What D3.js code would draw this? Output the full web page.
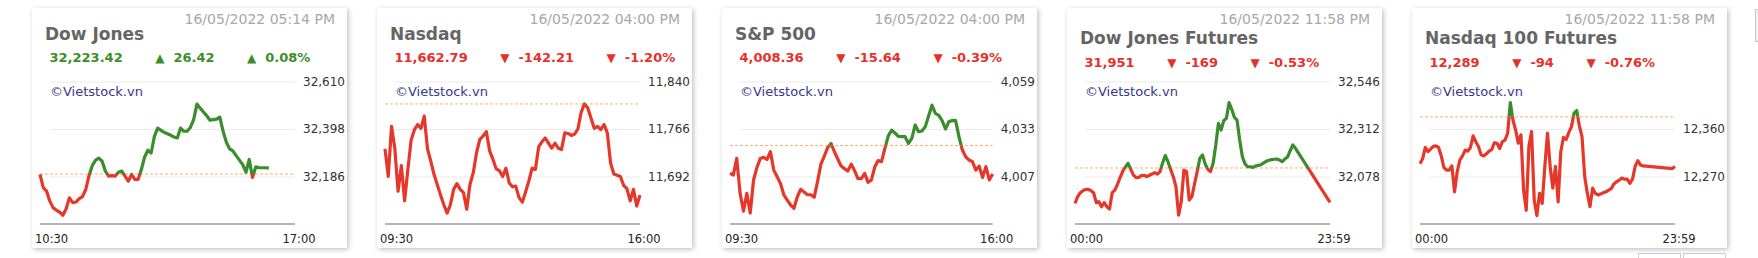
<!DOCTYPE html>
<html>
<head>
<meta charset="utf-8">
<script src="https://cdn.jsdelivr.net/npm/d3@7/dist/d3.min.js"></script>
<style>
  body { margin: 0; background: #fff; }
  svg { display: block; font-family: "DejaVu Sans", Verdana, sans-serif; }
</style>
</head>
<body>
<svg id="root" width="1758" height="258"></svg>
<script>
// ---- data ----
const titles = ["Dow Jones", "Nasdaq", "S&P 500", "Dow Jones Futures", "Nasdaq 100 Futures"];
const dates = ["16/05/2022 05:14 PM", "16/05/2022 04:00 PM", "16/05/2022 04:00 PM", "16/05/2022 11:58 PM", "16/05/2022 11:58 PM"];
const lastValues = ["32,223.42", "11,662.79", "4,008.36", "31,951", "12,289"];
const changes = ["26.42", "-142.21", "-15.64", "-169", "-94"];
const pctChanges = ["0.08%", "-1.20%", "-0.39%", "-0.53%", "-0.76%"];
const refValues = [32197, 11805, 4024, 32120, 12383];
const axisLabels = [["10:30", "17:00"], ["09:30", "16:00"], ["09:30", "16:00"], ["00:00", "23:59"], ["00:00", "23:59"]];
const yTicks = [[32186, 32398, 32610], [11692, 11766, 11840], [4007, 4033, 4059], [32078, 32312, 32546], [12270, 12360]];
const yDomains = [[31974, 32610], [11618, 11840], [3981, 4059], [31844, 32546], [12180, 12450]];
const stepMinutes = [5, 5, 5, 15, 15];
const spanMinutes = [390, 390, 390, 1440, 1440];

const dowValues = [32195,32136,32121,32076,32047,32036,32027,32013,32042,32091,
  32069,32072,32087,32096,32128,32190,32235,32259,32268,32254,
  32210,32188,32190,32188,32205,32210,32188,32165,32195,32173,
  32173,32217,32273,32303,32291,32365,32402,32392,32383,32377,
  32370,32362,32358,32402,32388,32388,32405,32440,32509,32491,
  32474,32457,32437,32440,32442,32451,32388,32339,32309,32300,
  32279,32259,32239,32205,32262,32182,32229,32225,32225,32225,32223];

const nasdaqValues = [11735,11692,11770,11736,11669,11709,11654,11703,11749,11765,
  11773,11767,11786,11735,11716,11695,11679,11663,11648,11635,
  11648,11672,11681,11672,11667,11641,11680,11698,11729,11750,
  11755,11762,11732,11719,11704,11701,11692,11705,11682,11676,
  11677,11659,11652,11668,11685,11705,11703,11738,11746,11752,
  11744,11736,11744,11736,11734,11760,11759,11756,11758,11766,
  11792,11805,11799,11783,11767,11770,11765,11773,11760,11713,
  11696,11694,11692,11678,11673,11654,11672,11646,11663];

const spValues = [4008.7,4007.8,4016.9,3997.8,3988,3997.8,3987,4005.1,4012.0,4016.8,
  4017.5,4016.4,4020.6,4010.5,4006.9,4003.2,3996.9,3994.1,3991.4,3989.6,
  3995.9,4000.0,3998.5,3997.0,3997.0,3995.6,4004.2,4013.8,4018.2,4022.8,
  4025.1,4020.6,4016.6,4012.7,4011.3,4010.0,4013.8,4010.2,4005.8,4005.8,
  4008.7,4003.8,4005.1,4012.2,4015.7,4015.1,4022.4,4029.2,4032.3,4030.8,
  4029.0,4028.8,4028.8,4025.1,4027.9,4035.2,4031.5,4031.9,4034.3,4040.3,
  4046.0,4041.6,4040.5,4037.6,4033.0,4037.0,4037.7,4037.6,4028.8,4021.5,
  4017.8,4016.0,4015.1,4010.5,4012.7,4006.5,4012.4,4005.1,4008.4];

// futures: null = no quote in that slot, the line joins across the gap
const dowFutValues = [31946,31979,31998,32008,32015,32015,32008,31998,31949,31954,
  31929,31949,31929,31918,31998,32011,32039,32074,32105,32126,
  32143,32113,32085,32072,32074,32082,32084,32077,32084,32090,
  32097,32090,32102,32146,32181,32151,32113,32077,32028,31888,
  31954,32110,32102,31962,31979,32041,32102,32168,32184,32140,
  32113,32102,32143,32233,32340,32307,32353,32365,32442,32409,
  32370,32356,32258,32176,32140,32126,32126,32123,32130,32133,
  32136,32145,32153,32158,32161,32163,32164,32159,32151,32164,
  32174,32205,32233,32217,
  null,null,null,null,null,null,null,null,null,null,null,null,
  31951];

const nasdaqFutValues = [12294,12304,12325,12317,12322,12327,12328,12325,12309,12287,
  12282,12282,12290,12241,12279,12301,12309,12320,12318,12325,
  12347,12336,12327,12311,12309,12313,12318,12321,12334,12333,
  12323,12336,12339,12352,12410,12377,12358,12333,12349,12244,
  12206,12327,12355,12225,12196,12238,12219,12289,12352,12289,
  12248,12289,12222,12317,12344,12340,12353,12364,12390,12395,
  12366,12345,12270,12238,12213,12248,12238,12235,12237,12239,
  12241,12244,12247,12256,12260,12263,12267,12265,12265,12257,
  12265,12289,12300,12292,12290,
  null,null,null,null,null,null,null,null,null,null,
  12285,12289];

const seriesValues = [dowValues, nasdaqValues, spValues, dowFutValues, nasdaqFutValues];

// ---- layout ----
const cardW = 315, cardH = 240, cardX0 = 32, cardStep = 345, cardY = 8;
const plotLeft = 8, plotTop = 73.5, plotBottom = 216;
const headerDrop = [0, 0, 0, 5, 5];
const GREEN = "#3a8c2c", RED = "#e5372a", GREEN_TXT = "#3b8f26", RED_TXT = "#e8302a";

const svg = d3.select("#root");
const defs = svg.append("defs");
defs.append("filter")
    .attr("id", "shadow")
    .attr("x", "-5%").attr("y", "-5%").attr("width", "112%").attr("height", "112%")
  .append("feDropShadow")
    .attr("dx", 1.5).attr("dy", 1.5)
    .attr("stdDeviation", 2.4)
    .attr("flood-color", "#000")
    .attr("flood-opacity", 0.26);

// bits of the next widget / pager that show at the edges
svg.append("rect").attr("x", 1755.5).attr("y", 9.5).attr("width", 12).attr("height", 32)
  .attr("fill", "#f3f3f3").attr("stroke", "#c8c8c8");
[1638, 1683].forEach(px => {
  svg.append("rect").attr("x", px + 0.5).attr("y", 253.5).attr("width", 42).attr("height", 10)
    .attr("fill", "#fff").attr("stroke", "#cfcfcf");
});

titles.forEach((title, i) => {
  const up = !changes[i].startsWith("-");
  const txtColor = up ? GREEN_TXT : RED_TXT;
  const arrow = up ? "\u25B2" : "\u25BC";

  const card = svg.append("g")
    .attr("transform", `translate(${cardX0 + i * cardStep},${cardY})`);

  card.append("rect")
    .attr("width", cardW).attr("height", cardH)
    .attr("fill", "#fff")
    .attr("filter", "url(#shadow)");

  // header
  card.append("text")
    .attr("x", 303).attr("y", 16)
    .attr("text-anchor", "end")
    .attr("font-size", 14)
    .attr("fill", "#a8a8a8")
    .text(dates[i]);

  card.append("text")
    .attr("x", 13).attr("y", 32 + headerDrop[i] * 0.7)
    .attr("font-size", 17).attr("font-weight", "bold")
    .attr("fill", "#656565")
    .text(title);

  const rowY = 53.5 + headerDrop[i];
  const gap = 32.5;
  const c1 = card.append("text")
    .attr("x", 17.5).attr("y", rowY)
    .attr("font-size", 13).attr("font-weight", "bold").attr("fill", txtColor)
    .text(lastValues[i]);
  let cx = 17.5 + c1.node().getComputedTextLength() + gap;
  [changes[i], pctChanges[i]].forEach(val => {
    const t = card.append("text")
      .attr("x", cx).attr("y", rowY)
      .attr("font-size", 13).attr("font-weight", "bold").attr("fill", txtColor);
    t.append("tspan").attr("font-size", 12).text(arrow);
    t.append("tspan").attr("dx", 9).text(val);
    cx += t.node().getComputedTextLength() + 9 + gap;
  });

  card.append("text")
    .attr("x", 18).attr("y", 88)
    .attr("font-size", 13)
    .attr("fill", "#37378c")
    .text("\u00A9Vietstock.vn");

  // y axis labels on the right, plot width follows their width
  const fmt = d3.format(",");
  const yLab = card.append("g").attr("font-size", 12).attr("fill", "#333");
  const labs = yLab.selectAll("text").data(yTicks[i]).join("text").text(d => fmt(d));
  const labW = d3.max(labs.nodes(), n => n.getComputedTextLength());
  const plotRight = cardW - labW - 10;

  const x = d3.scaleLinear().domain([0, spanMinutes[i]]).range([plotLeft, plotRight]);
  const y = d3.scaleLinear().domain(yDomains[i]).range([plotBottom, plotTop]);

  labs.attr("x", plotRight + 8).attr("y", d => y(d)).attr("dy", "0.36em");

  // gridlines
  card.append("g")
    .attr("transform", `translate(${plotRight},0)`)
    .call(d3.axisLeft(y).tickValues(yTicks[i]).tickSize(plotRight - plotLeft - 10).tickFormat(""))
    .call(g => g.select(".domain").remove())
    .call(g => g.selectAll("line").attr("stroke", "#ebebeb"));

  // previous close reference
  card.append("line")
    .attr("x1", plotLeft).attr("x2", plotRight)
    .attr("y1", y(refValues[i])).attr("y2", y(refValues[i]))
    .attr("stroke", "#f6b36a").attr("stroke-dasharray", "3,2");

  // price line split at the reference level
  const pts = seriesValues[i]
    .map((v, k) => ({ t: k * stepMinutes[i], v }))
    .filter(d => d.v != null);
  const line = d3.line().x(d => x(d.t)).y(d => y(d.v));
  const yr = y(refValues[i]);

  defs.append("clipPath").attr("id", "up" + i)
    .append("rect").attr("x", 0).attr("y", 0).attr("width", cardW).attr("height", yr);
  defs.append("clipPath").attr("id", "dn" + i)
    .append("rect").attr("x", 0).attr("y", yr).attr("width", cardW).attr("height", cardH - yr);

  [["up", GREEN], ["dn", RED]].forEach(([id, col]) => {
    card.append("path")
      .datum(pts)
      .attr("clip-path", `url(#${id}${i})`)
      .attr("d", line)
      .attr("fill", "none")
      .attr("stroke", col)
      .attr("stroke-width", 3.2)
      .attr("stroke-linejoin", "round");
  });

  // x axis
  card.append("line")
    .attr("x1", plotLeft).attr("x2", plotRight)
    .attr("y1", plotBottom).attr("y2", plotBottom)
    .attr("stroke", "#9e9e9e").attr("stroke-width", 1.6);

  card.append("text")
    .attr("x", 3).attr("y", 235)
    .attr("font-size", 11.5).attr("fill", "#222")
    .text(axisLabels[i][0]);
  card.append("text")
    .attr("x", plotRight + 4).attr("y", 235)
    .attr("text-anchor", "middle")
    .attr("font-size", 11.5).attr("fill", "#222")
    .text(axisLabels[i][1]);
});
</script>
</body>
</html>
